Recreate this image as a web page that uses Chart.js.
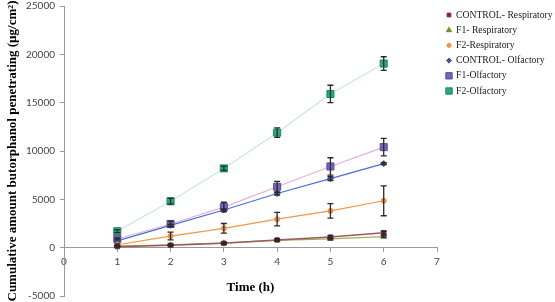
<!DOCTYPE html>
<html>
<head>
<meta charset="utf-8">
<script src="https://cdn.jsdelivr.net/npm/chart.js@4.4.1/dist/chart.umd.min.js"></script>
<style>
html,body{margin:0;padding:0;background:#fff;}
#wrap{width:555px;height:302px;position:relative;}
</style>
</head>
<body>
<div id="wrap"><canvas id="c" width="555" height="302"></canvas></div>
<script>
const times = [1, 2, 3, 4, 5, 6];
const xTicks = [0, 1, 2, 3, 4, 5, 6, 7];
const yTicks = [-5000, 0, 5000, 10000, 15000, 20000, 25000];

const seriesNames = ["CONTROL- Respiratory", "F1- Respiratory", "F2-Respiratory", "CONTROL- Olfactory", "F1-Olfactory", "F2-Olfactory"];

const controlResp = [100, 250, 450, 800, 1100, 1550];
const controlRespErr = [50, 80, 100, 100, 150, 150];
const f1Resp = [150, 300, 500, 750, 900, 1150];
const f1RespErr = [50, 60, 80, 100, 100, 100];
const f2Resp = [300, 1200, 2000, 2950, 3800, 4850];
const f2RespErr = [100, 400, 500, 700, 750, 1550];
const controlOlf = [700, 2300, 3900, 5600, 7150, 8700];
const controlOlfErr = [0, 100, 100, 150, 200, 100];
const f1Olf = [900, 2450, 4200, 6300, 8400, 10400];
const f1OlfErr = [100, 300, 500, 550, 900, 900];
const f2Olf = [1700, 4800, 8200, 11900, 15900, 19050];
const f2OlfErr = [150, 300, 200, 500, 900, 700];

const pts = arr => times.map((t, i) => ({x: t, y: arr[i]}));

const datasets = [
  {label: seriesNames[0], data: pts(controlResp), err: controlRespErr, borderColor: '#9a5a62', backgroundColor: '#8e1b4f', pointBorderColor: '#8e1b4f', pointStyle: 'rect', pointRadius: 3, borderWidth: 1.5, legendRadius: 2.6},
  {label: seriesNames[1], data: pts(f1Resp), err: f1RespErr, borderColor: '#a7ad52', backgroundColor: '#7d8a2c', pointBorderColor: '#7d8a2c', pointStyle: 'triangle', pointRadius: 3, borderWidth: 1.2, legendRadius: 3},
  {label: seriesNames[2], data: pts(f2Resp), err: f2RespErr, borderColor: '#f79646', backgroundColor: '#f79646', pointBorderColor: '#f08a3a', pointStyle: 'circle', pointRadius: 2.5, borderWidth: 1.2, legendRadius: 2},
  {label: seriesNames[3], data: pts(controlOlf), err: controlOlfErr, borderColor: '#4a6fd4', backgroundColor: '#4a5690', pointBorderColor: '#4a5690', pointStyle: 'rectRot', pointRadius: 3, borderWidth: 1.2, legendRadius: 2.6},
  {label: seriesNames[4], data: pts(f1Olf), err: f1OlfErr, borderColor: '#e2b0dc', backgroundColor: '#7366b8', pointBorderColor: '#5a4e9e', pointStyle: 'rect', pointRadius: 5, borderWidth: 1.2, legendRadius: 4.5},
  {label: seriesNames[5], data: pts(f2Olf), err: f2OlfErr, borderColor: '#c8e6e4', backgroundColor: '#2aaa7c', pointBorderColor: '#1a8a5e', pointStyle: 'rect', pointRadius: 5, borderWidth: 1.2, legendRadius: 4.5}
];
datasets.forEach(d => { d.pointBorderWidth = 1; d.tension = 0; d.fill = false; d.pointHoverRadius = d.pointRadius; });

const errorBars = {
  id: 'errorBars',
  afterDatasetsDraw(chart) {
    const ctx = chart.ctx;
    const ys = chart.scales.y, xs = chart.scales.x;
    ctx.save();
    ctx.strokeStyle = '#2a2a2a';
    ctx.lineWidth = 1.3;
    chart.data.datasets.forEach(ds => {
      if (!ds.err) return;
      ds.data.forEach((p, i) => {
        const e = ds.err[i];
        if (!e) return;
        const x = xs.getPixelForValue(p.x);
        const y1 = ys.getPixelForValue(p.y - e);
        const y2 = ys.getPixelForValue(p.y + e);
        ctx.beginPath();
        ctx.moveTo(x, y1); ctx.lineTo(x, y2);
        ctx.moveTo(x - 3, y1); ctx.lineTo(x + 3, y1);
        ctx.moveTo(x - 3, y2); ctx.lineTo(x + 3, y2);
        ctx.stroke();
      });
    });
    ctx.restore();
  }
};

const customLegend = {
  id: 'customLegend',
  afterDraw(chart) {
    const ctx = chart.ctx;
    chart.data.datasets.forEach((ds, i) => {
      const y = 15 + i * 15.2;
      ctx.save();
      ctx.fillStyle = ds.backgroundColor;
      ctx.strokeStyle = ds.pointBorderColor;
      ctx.lineWidth = 1;
      Chart.helpers.drawPoint(ctx, {pointStyle: ds.pointStyle, radius: ds.legendRadius, rotation: 0, borderWidth: 1}, 449, y);
      ctx.font = '9.7px "Liberation Serif", "Times New Roman", serif';
      ctx.textBaseline = 'middle';
      ctx.fillStyle = '#222';
      ctx.fillText(ds.label, 456, y);
      ctx.restore();
    });
  }
};

new Chart(document.getElementById('c'), {
  type: 'line',
  data: {datasets},
  plugins: [errorBars, customLegend],
  options: {
    responsive: false,
    animation: false,
    devicePixelRatio: 1,
    layout: {padding: {left: 0, top: 4, right: 118, bottom: 5}},
    plugins: {legend: {display: false}, tooltip: {enabled: false}},
    scales: {
      x: {
        type: 'linear',
        position: {y: 0},
        min: 0, max: 7,
        afterBuildTicks: s => { s.ticks = xTicks.map(v => ({value: v})); },
        afterFit: s => { s.paddingLeft = 0; s.paddingRight = 0; },
        ticks: {font: {family: 'Lato, "Liberation Sans", sans-serif', size: 10}, color: '#444', padding: 4, callback: v => String(v)},
        grid: {drawOnChartArea: false, drawTicks: true, tickLength: 4, color: '#9a9a9a'},
        border: {display: true, color: '#9a9a9a', width: 1},
        title: {display: true, text: 'Time (h)', font: {family: '"Liberation Serif", "Times New Roman", serif', size: 13, weight: 'bold'}, color: '#000', padding: {top: 8, bottom: 0}}
      },
      y: {
        type: 'linear',
        min: -5000, max: 25000,
        afterBuildTicks: s => { s.ticks = yTicks.map(v => ({value: v})); },
        afterFit: s => { s.width = 64; s.paddingTop = 0; s.paddingBottom = 0; },
        ticks: {font: {family: 'Lato, "Liberation Sans", sans-serif', size: 10}, color: '#444', padding: 5, callback: v => String(v)},
        grid: {drawOnChartArea: false, drawTicks: true, tickLength: 4, color: '#9a9a9a'},
        border: {display: true, color: '#9a9a9a', width: 1},
        title: {display: true, text: 'Cumulative amount butorphanol penetrating (µg/cm²)', font: {family: '"Liberation Serif", "Times New Roman", serif', size: 13, weight: 'bold'}, color: '#000', padding: {top: 5, bottom: 0}}
      }
    }
  }
});
</script>
</body>
</html>
